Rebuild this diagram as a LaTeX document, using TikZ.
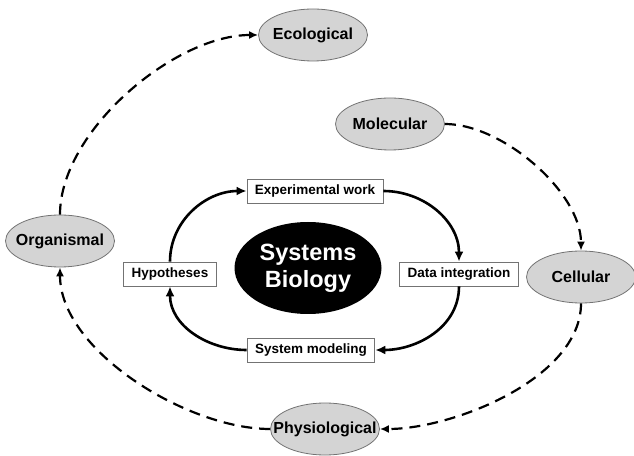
\documentclass[tikz,border=0pt]{standalone}
\usepackage{fontspec}
\setmainfont{Liberation Sans}
\usetikzlibrary{shapes.geometric,arrows.meta}

\newcommand{\tiername}[1]{\makebox[0pt]{#1}}

\begin{document}
\begin{tikzpicture}[x=1pt, y=1pt]
        \tikzstyle{tier}=[ellipse,draw=black!55,fill=black!17,line width=0.8pt,minimum width=109pt,minimum height=52pt,inner sep=0pt,font=\fontsize{16}{18}\selectfont\bfseries]
        \tikzstyle{core}=[ellipse,fill=black,text=white,minimum width=147pt,minimum height=92pt,inner sep=0pt,align=center,font=\fontsize{23.5}{27}\selectfont\bfseries]
        \tikzstyle{stepbox}=[rectangle,draw=black!55,fill=white,line width=0.8pt,minimum height=24pt,inner xsep=8pt,font=\fontsize{13.5}{15}\selectfont\bfseries]
        \tikzstyle{innerarc}=[line width=2.6pt,-{Latex[length=10pt,width=9pt]}]
        \tikzstyle{outerarc}=[line width=2.2pt,dash pattern=on 11pt off 7pt,looseness=0.8,-{Latex[length=9pt,width=8pt]}]

        \useasboundingbox (0,0) rectangle (634,455);

        \node[tier] (eco) at (313,420) {\tiername{Ecological}};
        \node[tier] (mol) at (390,331) {\tiername{Molecular}};
        \node[tier] (org) at (60,214)  {\tiername{Organismal}};
        \node[tier] (cel) at (581,178) {\tiername{Cellular}};
        \node[tier] (phy) at (325,26)  {\tiername{Physiological}};

        \node[core] (sb) at (308,187) {Systems\\Biology};

        \node[stepbox] (exp) at (315,264) {Experimental work};
        \node[stepbox] (dat) at (459,181) {Data integration};
        \node[stepbox] (mod) at (311,105) {System modeling};
        \node[stepbox] (hyp) at (170,181) {Hypotheses};

        \draw[innerarc] (hyp.north) to[out=90,in=180] (exp.west);
        \draw[innerarc] (exp.east) to[out=0,in=90] (dat.north);
        \draw[innerarc] (dat.south) to[out=-90,in=0] (mod.east);
        \draw[innerarc] (mod.west) to[out=180,in=-90] (hyp.south);

        \draw[outerarc] (org.north) to[out=90,in=180] (eco.west);
        \draw[outerarc] (mol.east) to[out=0,in=90] (cel.north);
        \draw[outerarc] (cel.south) to[out=-90,in=0] (phy.east);
        \draw[outerarc] (phy.west) to[out=180,in=-90] (org.south);
    \end{tikzpicture}
\end{document}
